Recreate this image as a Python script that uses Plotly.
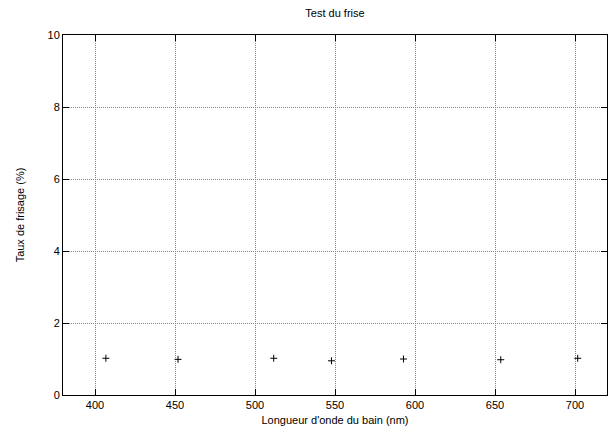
import plotly.graph_objects as go

wavelength = [406.8, 451.9, 511.7, 547.8, 592.8, 653.6, 701.7]
taux = [1.02, 0.99, 1.02, 0.95, 1.00, 0.98, 1.02]

x_ticks = [400, 450, 500, 550, 600, 650, 700]
y_ticks = [0, 2, 4, 6, 8, 10]

fig = go.Figure()
fig.add_trace(go.Scatter(
    x=wavelength, y=taux, mode="markers",
    marker=dict(symbol="cross-thin", size=5, line=dict(color="black", width=1), color="black"),
    showlegend=False,
))

axis_common = dict(
    showline=True, linecolor="black", linewidth=1, mirror="allticks",
    ticks="inside", ticklen=6, tickcolor="black", tickwidth=1,
    showgrid=True, gridcolor="#808080", griddash="1px,1px", gridwidth=1,
    zeroline=False, tickfont=dict(family="Liberation Sans, Arial, sans-serif", size=11, color="black"),
)

fig.update_layout(
    width=609, height=434,
    margin=dict(l=63, r=2, t=35, b=39),
    paper_bgcolor="white", plot_bgcolor="white",
    font=dict(family="Liberation Sans, Arial, sans-serif", size=11, color="black"),
    title=dict(text="Test du frise", x=(63 + 607) / 2 / 609, xanchor="center", y=0.97, yanchor="middle",
               font=dict(size=11)),
    xaxis=dict(range=[380, 720], tickvals=x_ticks, title=dict(text="Longueur d'onde du bain (nm)", font=dict(size=11), standoff=6), **axis_common),
    yaxis=dict(range=[0, 10], tickvals=y_ticks, title=dict(text="Taux de frisage (%)", font=dict(size=11), standoff=20), **axis_common),
)

fig.write_html("out.html")
